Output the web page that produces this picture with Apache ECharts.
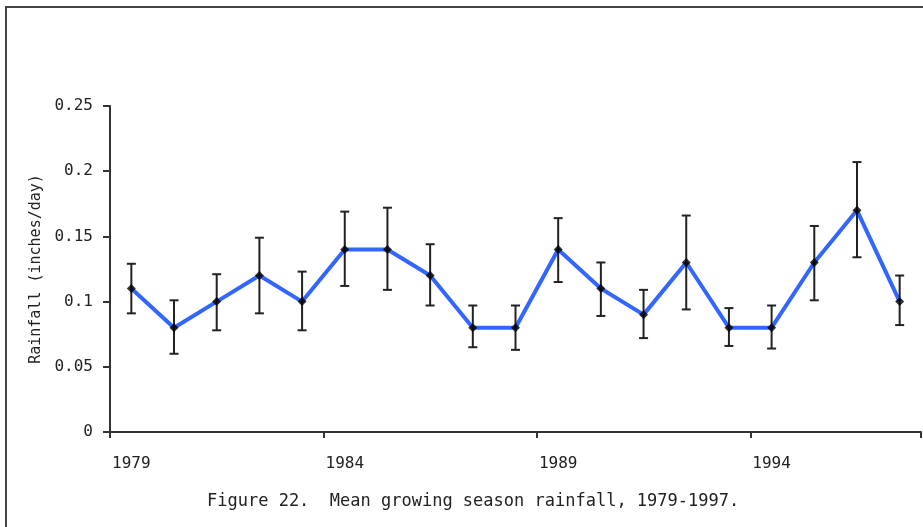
<!DOCTYPE html>
<html>
<head>
<meta charset="utf-8">
<script src="https://cdn.jsdelivr.net/npm/echarts@6/dist/echarts.min.js"></script>
<style>html,body{margin:0;padding:0;background:#fff}#c{width:923px;height:527px}</style>
</head>
<body>
<div id="c"></div>
<script>
const years = ['1979','1980','1981','1982','1983','1984','1985','1986','1987','1988','1989','1990','1991','1992','1993','1994','1995','1996','1997'];
const rainfall = [0.11,0.08,0.10,0.12,0.10,0.14,0.14,0.12,0.08,0.08,0.14,0.11,0.09,0.13,0.08,0.08,0.13,0.17,0.10];
const errHigh = [0.129,0.101,0.121,0.149,0.123,0.169,0.172,0.144,0.097,0.097,0.164,0.130,0.109,0.166,0.095,0.097,0.158,0.207,0.120];
const errLow  = [0.091,0.060,0.078,0.091,0.078,0.112,0.109,0.097,0.065,0.063,0.115,0.089,0.072,0.094,0.066,0.064,0.101,0.134,0.082];
const yTicks = [0, 0.05, 0.1, 0.15, 0.2, 0.25];
const yAxisTitle = 'Rainfall (inches/day)';
const caption = 'Figure 22.  Mean growing season rainfall, 1979-1997.';

const chart = echarts.init(document.getElementById('c'), null, {renderer: 'canvas'});
const font = '"DejaVu Sans Mono"';
chart.setOption({
  animation: false,
  backgroundColor: '#fff',
  grid: {left: 110, right: 2, top: 106, bottom: 95, containLabel: false},
  xAxis: {
    type: 'category',
    data: years,
    boundaryGap: true,
    axisLine: {lineStyle: {color: '#333', width: 2}},
    axisTick: {show: true, interval: 4, length: 6, lineStyle: {color: '#333', width: 2}},
    axisLabel: {interval: 4, margin: 24, color: '#222', fontFamily: font, fontSize: 16}
  },
  yAxis: {
    type: 'value',
    min: yTicks[0], max: yTicks[yTicks.length - 1], interval: 0.05,
    name: yAxisTitle, nameLocation: 'middle', nameGap: 57, nameRotate: 90,
    nameTextStyle: {color: '#222', fontFamily: font, fontSize: 15},
    axisLine: {show: true, lineStyle: {color: '#333', width: 2}},
    axisTick: {show: true, length: 7, lineStyle: {color: '#333', width: 2}},
    splitLine: {show: false},
    axisLabel: {margin: 17, color: '#222', fontFamily: font, fontSize: 16}
  },
  graphic: [
    {type: 'rect', silent: true, shape: {x: 6, y: 7, width: 940, height: 560}, style: {fill: 'none', stroke: '#444', lineWidth: 2}},
    {type: 'text', silent: true, x: 207, y: 502, style: {text: caption, fill: '#222', font: '17px "DejaVu Sans Mono"', verticalAlign: 'middle', align: 'left'}}
  ],
  series: [
    {
      type: 'line', data: rainfall, symbol: 'none', z: 2,
      lineStyle: {color: '#3366ff', width: 4}
    },
    {
      type: 'custom', z: 3,
      data: years.map((y, i) => [i, errLow[i], errHigh[i]]),
      renderItem: function (params, api) {
        const x = api.value(0);
        const lo = api.coord([x, api.value(1)]);
        const hi = api.coord([x, api.value(2)]);
        const hw = 4.5;
        const st = {stroke: '#222', lineWidth: 2};
        return {type: 'group', children: [
          {type: 'line', shape: {x1: lo[0], y1: lo[1], x2: hi[0], y2: hi[1]}, style: st},
          {type: 'line', shape: {x1: lo[0]-hw, y1: lo[1], x2: lo[0]+hw, y2: lo[1]}, style: st},
          {type: 'line', shape: {x1: hi[0]-hw, y1: hi[1], x2: hi[0]+hw, y2: hi[1]}, style: st}
        ]};
      }
    },
    {
      type: 'scatter', data: rainfall, symbol: 'diamond', symbolSize: 9, z: 4,
      itemStyle: {color: '#000'}
    }
  ]
});
</script>
</body>
</html>
